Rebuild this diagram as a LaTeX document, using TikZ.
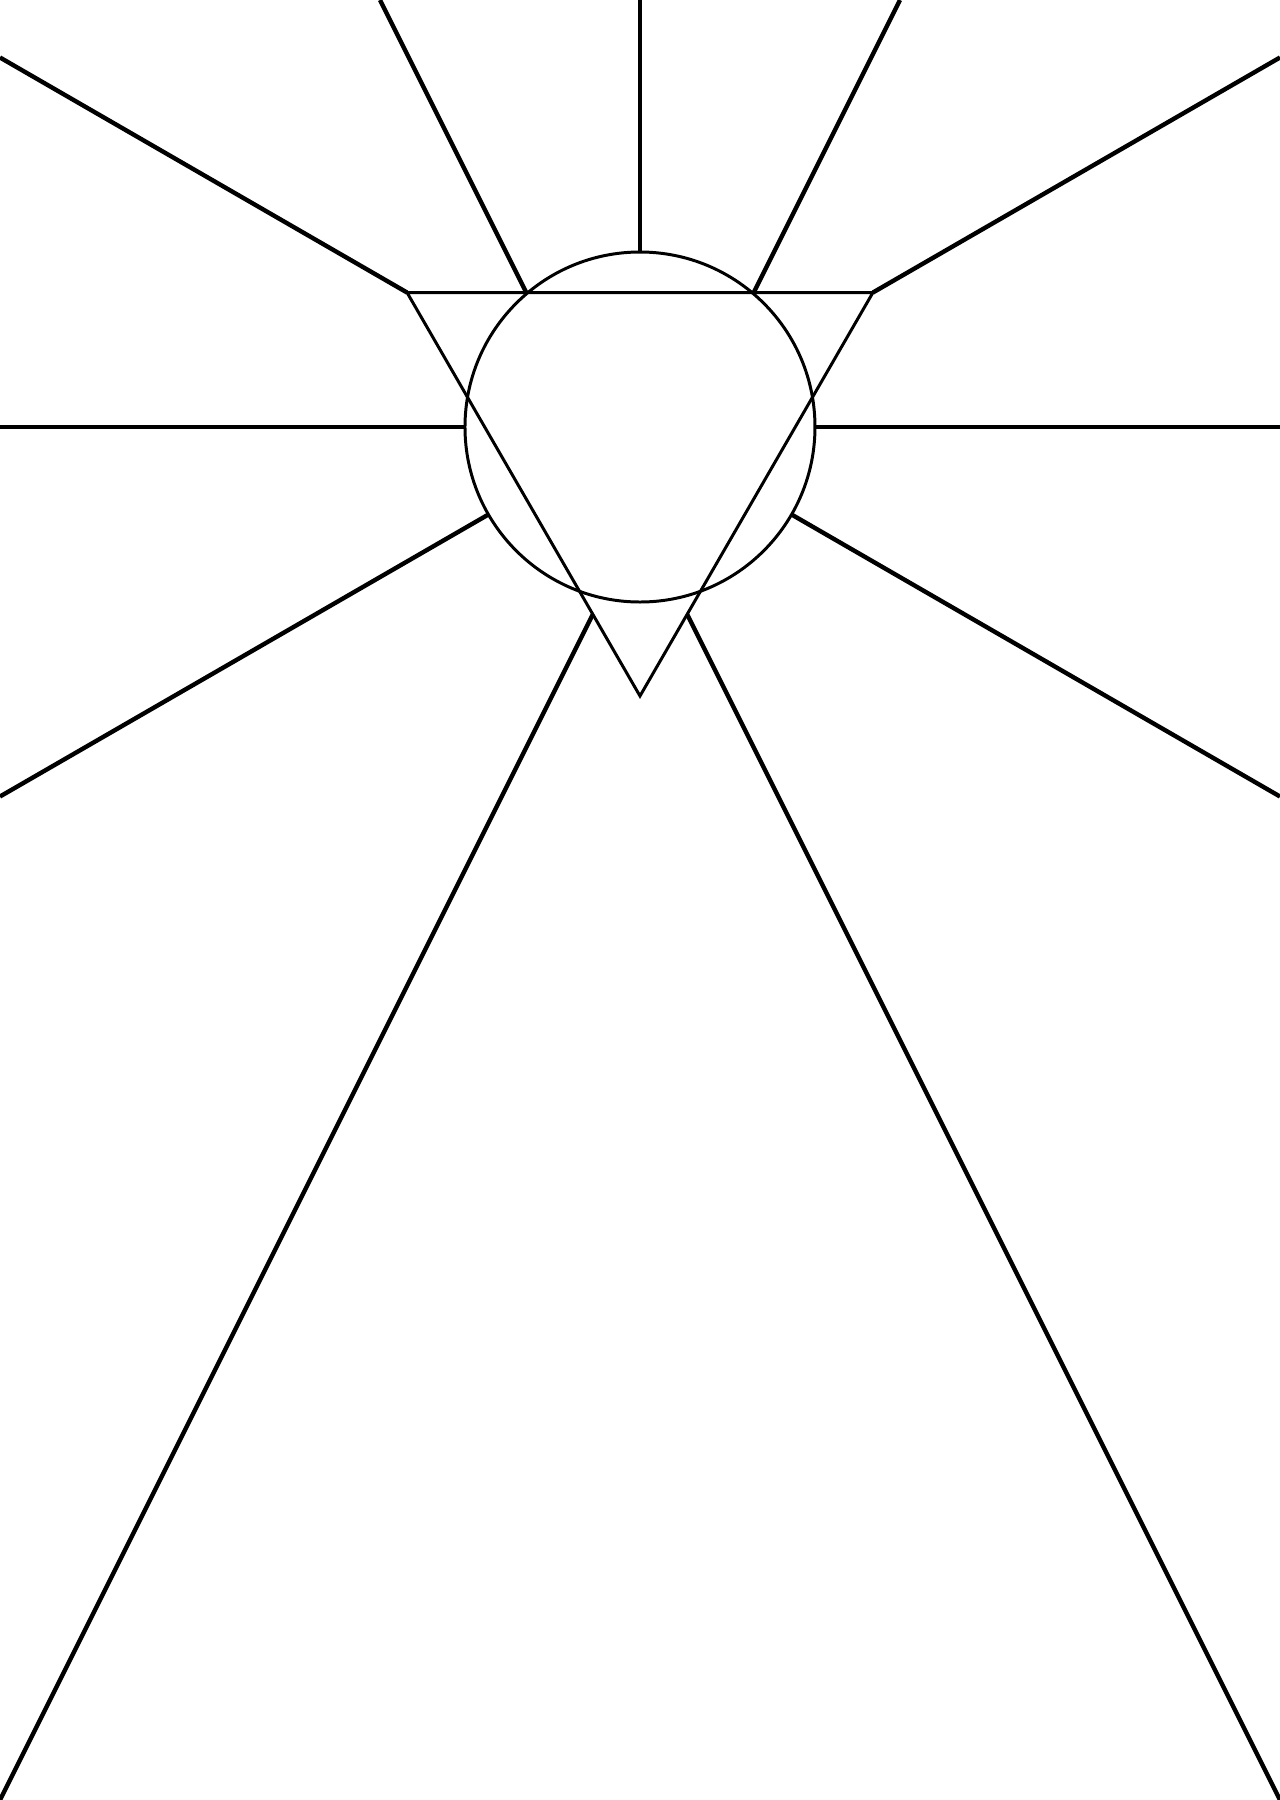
\documentclass[tikz,border=0pt]{standalone}
\usetikzlibrary{calc}

\begin{document}
\begin{tikzpicture}[
  ray/.style={draw=black, line width=1.25pt},
  figline/.style={draw=black, line width=0.85pt, line join=miter}
]
  \useasboundingbox (-6.40,-13.73) rectangle (6.40,4.27);
  % centre figure
  \coordinate (o) at (0,0);
  \coordinate (tl) at (150:2.69);
  \coordinate (tr) at (30:2.69);
  \coordinate (tb) at (270:2.69);
  \draw[figline] (o) circle (1.75);
  \draw[figline] (tl) -- (tr) -- (tb) -- cycle;
  % ray ends on the border
  \coordinate (eup) at (0,4.27);
  \coordinate (eul) at (-6.40,3.695);
  \coordinate (eur) at (6.40,3.695);
  \coordinate (el) at (-6.40,0);
  \coordinate (er) at (6.40,0);
  \coordinate (edl) at (-6.40,-3.695);
  \coordinate (edr) at (6.40,-3.695);
  \coordinate (etl) at (-2.60,4.27);
  \coordinate (etr) at (2.60,4.27);
  \coordinate (ebl) at (-6.40,-13.73);
  \coordinate (ebr) at (6.40,-13.73);
  % ray starts on the figure
  \coordinate (stl) at (-1.1375,1.345);
  \coordinate (str) at (1.1375,1.345);
  \coordinate (sbl) at (-0.4716,-1.8732);
  \coordinate (sbr) at (0.4716,-1.8732);
  % rays
  \draw[ray] (90:1.75) -- (eup);
  \draw[ray] (tl) -- (eul);
  \draw[ray] (tr) -- (eur);
  \draw[ray] (180:1.75) -- (el);
  \draw[ray] (0:1.75) -- (er);
  \draw[ray] (210:1.75) -- (edl);
  \draw[ray] (330:1.75) -- (edr);
  \draw[ray] (stl) -- (etl);
  \draw[ray] (str) -- (etr);
  \draw[ray] (sbl) -- (ebl);
  \draw[ray] (sbr) -- (ebr);
\end{tikzpicture}
\end{document}
